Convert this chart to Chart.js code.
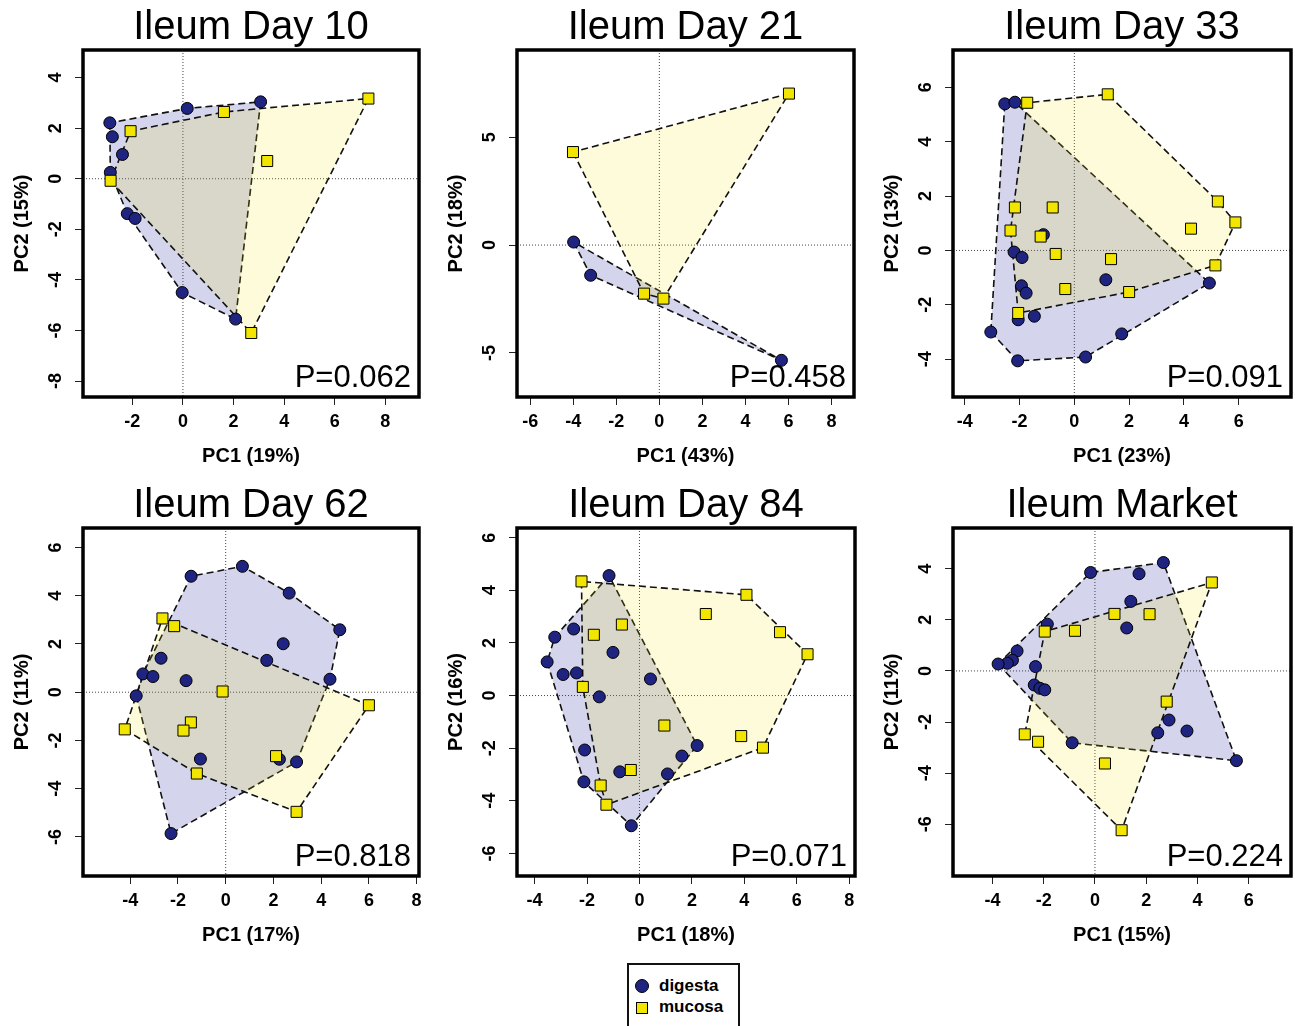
<!DOCTYPE html>
<html>
<head>
<meta charset="utf-8">
<script src="https://cdn.jsdelivr.net/npm/chart.js@4/dist/chart.umd.min.js"></script>
<style>
  body { margin: 0; background: #fff; width: 1295px; height: 1026px; overflow: hidden; position: relative; font-family: "Liberation Sans", Arial, sans-serif; }
  canvas { position: absolute; }
  #legend { position: absolute; left: 627px; top: 963px; width: 109px; height: 110px; border: 2px solid #111; }
  #legend .mark { position: absolute; border: 1px solid #000; }
  #legend .txt { position: absolute; left: 30px; font-weight: bold; font-size: 17px; line-height: 17px; color: #000; }
</style>
</head>
<body>
<div id="legend">
  <div class="mark" style="left:6px;top:14px;width:12px;height:12px;border-radius:50%;background:#1f2480;"></div>
  <div class="txt" style="top:12px;">digesta</div>
  <div class="mark" style="left:7px;top:37px;width:10px;height:10px;background:#f2e600;"></div>
  <div class="txt" style="top:33px;">mucosa</div>
</div>
<script>
// --- data (PC1, PC2) ---
const titles = ['Ileum Day 10', 'Ileum Day 21', 'Ileum Day 33', 'Ileum Day 62', 'Ileum Day 84', 'Ileum Market'];
const pValues = ['P=0.062', 'P=0.458', 'P=0.091', 'P=0.818', 'P=0.071', 'P=0.224'];
const pc1Labels = ['PC1 (19%)', 'PC1 (43%)', 'PC1 (23%)', 'PC1 (17%)', 'PC1 (18%)', 'PC1 (15%)'];
const pc2Labels = ['PC2 (15%)', 'PC2 (18%)', 'PC2 (13%)', 'PC2 (11%)', 'PC2 (16%)', 'PC2 (11%)'];
const xTickValues = [[-2,0,2,4,6,8], [-6,-4,-2,0,2,4,6,8], [-4,-2,0,2,4,6], [-4,-2,0,2,4,6,8], [-4,-2,0,2,4,6,8], [-4,-2,0,2,4,6]];
const yTickValues = [[-8,-6,-4,-2,0,2,4], [-5,0,5], [-4,-2,0,2,4,6], [-6,-4,-2,0,2,4,6], [-6,-4,-2,0,2,4,6], [-6,-4,-2,0,2,4]];

const day10Digesta = [[-2.89,2.21],[-2.79,1.66],[-2.39,0.96],[-2.87,0.25],[-2.2,-1.38],[-1.89,-1.57],[-0.03,-4.5],[2.08,-5.55],[0.17,2.78],[3.07,3.04]];
const day10Mucosa  = [[-2.86,-0.08],[-2.07,1.88],[1.62,2.64],[7.33,3.17],[3.33,0.7],[2.7,-6.1]];

const day21Digesta = [[-3.98,0.14],[-3.19,-1.4],[5.67,-5.34]];
const day21Mucosa  = [[-4.01,4.31],[6.02,7.02],[-0.71,-2.25],[0.19,-2.48]];

const day33Digesta = [[-2.54,5.39],[-2.17,5.45],[-2.2,-0.06],[-1.91,-0.26],[-1.93,-1.3],[-1.76,-1.57],[-2.05,-2.55],[-1.46,-2.42],[-3.05,-3.0],[-2.07,-4.06],[0.41,-3.92],[1.73,-3.07],[4.93,-1.2],[1.15,-1.08],[-1.13,0.58]];
const day33Mucosa  = [[-1.72,5.43],[1.22,5.74],[5.24,1.8],[5.88,1.03],[4.26,0.8],[5.15,-0.55],[2.0,-1.53],[-0.33,-1.42],[1.34,-0.32],[-0.68,-0.13],[-0.79,1.58],[-1.23,0.51],[-2.17,1.58],[-2.33,0.73],[-2.05,-2.3]];

const day62Digesta = [[-1.45,4.81],[0.7,5.22],[2.66,4.11],[4.78,2.59],[2.41,2.01],[1.72,1.32],[4.37,0.54],[-2.71,1.41],[-3.47,0.76],[-3.05,0.65],[-1.66,0.48],[-3.75,-0.15],[-1.06,-2.77],[2.25,-2.78],[2.97,-2.89],[-2.29,-5.86]];
const day62Mucosa  = [[-2.65,3.06],[-2.16,2.74],[-0.13,0.03],[6.0,-0.54],[-4.23,-1.54],[-1.46,-1.25],[-1.77,-1.59],[-1.21,-3.37],[2.11,-2.65],[2.97,-4.96]];

const day84Digesta = [[-1.16,4.56],[-3.23,2.22],[-2.51,2.53],[-3.52,1.28],[-2.91,0.8],[-2.4,0.86],[-1.01,1.64],[-1.53,-0.05],[0.42,0.63],[-2.09,-2.07],[-2.12,-3.28],[-0.75,-2.9],[1.07,-2.98],[1.62,-2.3],[2.2,-1.9],[-0.31,-4.95]];
const day84Mucosa  = [[-2.21,4.34],[4.08,3.83],[2.53,3.1],[5.36,2.41],[6.41,1.57],[-0.67,2.7],[-1.74,2.31],[-2.16,0.33],[0.95,-1.14],[3.88,-1.54],[4.71,-1.98],[-0.33,-2.83],[-1.48,-3.42],[-1.26,-4.15]];

const marketDigesta = [[-0.17,3.85],[2.67,4.24],[1.72,3.8],[1.4,2.72],[1.24,1.68],[-1.86,1.83],[-3.04,0.78],[-3.22,0.42],[-3.42,0.3],[-3.78,0.27],[-2.32,0.17],[-2.37,-0.55],[-2.15,-0.68],[-1.96,-0.74],[-0.89,-2.81],[2.45,-2.42],[2.89,-1.92],[3.59,-2.35],[5.52,-3.51]];
const marketMucosa  = [[4.56,3.46],[0.76,2.23],[2.13,2.22],[-1.96,1.54],[-0.78,1.57],[2.8,-1.2],[-2.74,-2.48],[-2.22,-2.77],[0.39,-3.62],[1.04,-6.23]];

const digestaSets = [day10Digesta, day21Digesta, day33Digesta, day62Digesta, day84Digesta, marketDigesta];
const mucosaSets = [day10Mucosa, day21Mucosa, day33Mucosa, day62Mucosa, day84Mucosa, marketMucosa];

// --- layout: plot box on the page, axis limits ---
const panelBoxes = [[83,50,419,397], [517,50,854,397], [953,50,1291,397], [83,528,419,876], [517,528,855,876], [953,528,1291,876]];
const xRanges = [[-3.95,9.33], [-6.61,9.04], [-4.43,7.91], [-5.98,8.10], [-4.67,8.22], [-5.54,7.65]];
const yRanges = [[-8.63,5.09], [-7.04,9.04], [-5.39,7.37], [-7.62,6.81], [-6.86,6.37], [-8.02,5.59]];

const FONT = '"Liberation Sans", Arial, Helvetica, sans-serif';
const PAD_L = 85, PAD_T = 50, PAD_R = 12, PAD_B = 80;

// convex hull (monotone chain), closed
function hull(list) {
  const pts = list.map(p => ({x: p[0], y: p[1]})).sort((a, b) => a.x - b.x || a.y - b.y);
  const cross = (o, a, b) => (a.x - o.x) * (b.y - o.y) - (a.y - o.y) * (b.x - o.x);
  const lower = [], upper = [];
  pts.forEach(p => {
    while (lower.length >= 2 && cross(lower[lower.length-2], lower[lower.length-1], p) <= 0) lower.pop();
    lower.push(p);
  });
  pts.slice().reverse().forEach(p => {
    while (upper.length >= 2 && cross(upper[upper.length-2], upper[upper.length-1], p) <= 0) upper.pop();
    upper.push(p);
  });
  const h = lower.slice(0, -1).concat(upper.slice(0, -1));
  h.push(h[0]);
  return h;
}

// decorations in R style: box, zero lines, titles, rotated y ticks, P value
const decor = {
  id: 'decor',
  beforeDatasetsDraw(chart) {
    const {ctx, chartArea: a, scales: {x, y}} = chart;
    ctx.save();
    ctx.strokeStyle = '#444';
    ctx.lineWidth = 1;
    ctx.setLineDash([1, 2]);
    const x0 = x.getPixelForValue(0), y0 = y.getPixelForValue(0);
    ctx.beginPath();
    ctx.moveTo(x0, a.top); ctx.lineTo(x0, a.bottom);
    ctx.moveTo(a.left, y0); ctx.lineTo(a.right, y0);
    ctx.stroke();
    ctx.restore();
  },
  afterDraw(chart, args, opts) {
    const {ctx, chartArea: a, scales: {y}} = chart;
    const cx = (a.left + a.right) / 2, cy = (a.top + a.bottom) / 2;
    ctx.save();
    ctx.strokeStyle = '#000';
    ctx.lineWidth = 3.5;
    ctx.strokeRect(a.left, a.top, a.right - a.left, a.bottom - a.top);
    ctx.fillStyle = '#000';
    // title
    ctx.font = '40px ' + FONT;
    ctx.textAlign = 'center';
    ctx.textBaseline = 'alphabetic';
    ctx.fillText(opts.title, cx, a.top - 11);
    // x label
    ctx.font = 'bold 20px ' + FONT;
    ctx.fillText(opts.xLabel, cx, a.bottom + 65);
    // P value
    ctx.font = '31px ' + FONT;
    ctx.textAlign = 'right';
    ctx.fillText(opts.p, a.right - 8, a.bottom - 10);
    // y ticks and label, rotated
    ctx.textAlign = 'center';
    ctx.textBaseline = 'middle';
    ctx.font = 'bold 18px ' + FONT;
    y.ticks.forEach(t => {
      ctx.save();
      ctx.translate(a.left - 27, y.getPixelForValue(t.value));
      ctx.rotate(-Math.PI / 2);
      ctx.fillText(String(t.value), 0, 0);
      ctx.restore();
    });
    ctx.font = 'bold 20px ' + FONT;
    ctx.translate(a.left - 61, cy);
    ctx.rotate(-Math.PI / 2);
    ctx.fillText(opts.yLabel, 0, 0);
    ctx.restore();
  }
};

titles.forEach((title, i) => {
  const [L, T, R, B] = panelBoxes[i];
  const canvas = document.createElement('canvas');
  canvas.width = (R - L) + PAD_L + PAD_R;
  canvas.height = (B - T) + PAD_T + PAD_B;
  canvas.style.left = (L - PAD_L) + 'px';
  canvas.style.top = (T - PAD_T) + 'px';
  canvas.style.width = canvas.width + 'px';
  canvas.style.height = canvas.height + 'px';
  document.body.appendChild(canvas);

  const dig = digestaSets[i], muc = mucosaSets[i];
  new Chart(canvas.getContext('2d'), {
    type: 'scatter',
    data: {
      datasets: [
        { type: 'line', data: hull(dig), fill: 'shape', backgroundColor: 'rgba(40,45,160,0.2)',
          borderColor: '#111', borderWidth: 1.6, borderDash: [7, 4], pointRadius: 0, tension: 0, order: 4 },
        { type: 'line', data: hull(muc), fill: 'shape', backgroundColor: 'rgba(240,230,0,0.15)',
          borderColor: '#111', borderWidth: 1.6, borderDash: [7, 4], pointRadius: 0, tension: 0, order: 3 },
        { data: dig.map(p => ({x: p[0], y: p[1]})), pointStyle: 'circle', pointRadius: 6,
          backgroundColor: '#1f2480', borderColor: '#000', borderWidth: 1, order: 2 },
        { data: muc.map(p => ({x: p[0], y: p[1]})), pointStyle: 'rect', pointRadius: 7.8,
          backgroundColor: '#f2e600', borderColor: '#000', borderWidth: 1, order: 1 }
      ]
    },
    options: {
      responsive: false,
      devicePixelRatio: 1,
      animation: false,
      events: [],
      layout: { padding: { left: 0, top: PAD_T, right: PAD_R, bottom: 0 } },
      plugins: {
        legend: { display: false },
        tooltip: { enabled: false },
        decor: { title: title, p: pValues[i], xLabel: pc1Labels[i], yLabel: pc2Labels[i] }
      },
      scales: {
        x: {
          type: 'linear', min: xRanges[i][0], max: xRanges[i][1],
          afterBuildTicks: s => { s.ticks = xTickValues[i].map(v => ({value: v})); },
          afterFit: s => { s.height = PAD_B; },
          grid: { drawOnChartArea: false, drawTicks: true, tickLength: 8, tickColor: '#222', tickWidth: 1 },
          border: { display: false },
          ticks: { color: '#000', padding: 6, font: { family: FONT, size: 18, weight: 'bold' }, maxRotation: 0, autoSkip: false }
        },
        y: {
          type: 'linear', min: yRanges[i][0], max: yRanges[i][1],
          afterBuildTicks: s => { s.ticks = yTickValues[i].map(v => ({value: v})); },
          afterFit: s => { s.width = PAD_L; },
          grid: { drawOnChartArea: false, drawTicks: true, tickLength: 8, tickColor: '#222', tickWidth: 1 },
          border: { display: false },
          ticks: { display: false }
        }
      }
    },
    plugins: [decor]
  });
});
</script>
</body>
</html>
